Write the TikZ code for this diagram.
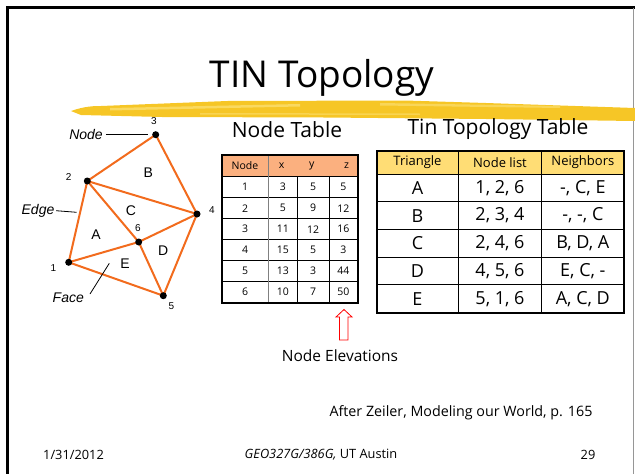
\documentclass[tikz,border=0pt]{standalone}
\usepackage{fontspec}
\setmainfont{Open Sans}
\newfontfamily\figfont{Liberation Sans}
\definecolor{tinedge}{RGB}{242,107,29}
\definecolor{nodehead}{RGB}{251,176,127}
\definecolor{topohead}{RGB}{255,221,117}
\definecolor{brush}{RGB}{246,198,38}
\definecolor{brushlight}{RGB}{251,222,110}
\definecolor{framegray}{RGB}{150,150,150}
\begin{document}
\begin{tikzpicture}[x=1pt,y=-1pt,
  vertex/.style={circle,fill=black,inner sep=0pt,minimum size=7pt},
  vlabel/.style={font=\figfont\fontsize{10}{12}\selectfont,inner sep=0pt},
  facelabel/.style={font=\figfont\fontsize{14}{16}\selectfont,inner sep=0pt},
  callout/.style={font=\figfont\itshape\fontsize{14}{16}\selectfont,inner sep=0pt},
  tinline/.style={draw=tinedge,line width=2pt},
  leader/.style={draw=black,line width=0.8pt},
  heading/.style={font=\fontsize{21}{24}\selectfont,inner sep=0pt},
  smallcell/.style={font=\fontsize{10.5}{12}\selectfont,inner sep=0pt},
  bigcell/.style={font=\fontsize{18}{20}\selectfont,inner sep=0pt},
  headcell/.style={font=\fontsize{13}{15}\selectfont,inner sep=0pt},
  plain/.style={font=\fontsize{14.3}{17}\selectfont,inner sep=0pt},
  footer/.style={font=\fontsize{12.8}{15}\selectfont,inner sep=0pt}]
\useasboundingbox (0,0) rectangle (635,474);

% slide frame
\draw[line width=3pt] (7.5,474) -- (7.5,7.5) -- (635,7.5);
\draw[framegray,line width=0.8pt] (633.6,7.5) -- (633.6,474);

% title and brush stroke underline
\fill[brush] (71,111) .. controls (85,106) and (95,106) .. (101,106)
  -- (227,101) -- (405,100.5) -- (486,103) -- (635,108)
  -- (635,121) -- (486,119) -- (324,117.5) -- (162,117) -- (81,115) -- cycle;
\fill[brushlight,opacity=0.8] (110,108) -- (300,104) -- (300,106.5) -- (110,110.5) -- cycle;
\fill[brushlight,opacity=0.7] (380,103) -- (560,106) -- (560,108) -- (380,105.5) -- cycle;
\fill[brushlight,opacity=0.6] (200,113) -- (420,113.5) -- (420,115) -- (200,114.5) -- cycle;
\node[font=\fontsize{37}{44}\selectfont,inner sep=0pt,anchor=base] (title) at (322,87) {TIN Topology};

% TIN vertices
\coordinate (p1) at (68.7,262.3);
\coordinate (p2) at (87.3,181);
\coordinate (p3) at (155.7,134.7);
\coordinate (p4) at (197,214);
\coordinate (p5) at (163.3,295.7);
\coordinate (p6) at (138.7,242);

% TIN edges
\draw[tinline] (p1) -- (p2);
\draw[tinline] (p2) -- (p3);
\draw[tinline] (p3) -- (p4);
\draw[tinline] (p2) -- (p4);
\draw[tinline] (p2) -- (p6);
\draw[tinline] (p4) -- (p6);
\draw[tinline] (p1) -- (p6);
\draw[tinline] (p1) -- (p5);
\draw[tinline] (p5) -- (p6);
\draw[tinline] (p4) -- (p5);

\foreach \i in {1,...,6} \node[vertex] (v\i) at (p\i) {};

% vertex numbers
\node[vlabel] (n1) at (53.3,268.3) {1};
\node[vlabel] (n2) at (68.7,177.3) {2};
\node[vlabel] (n3) at (154,121) {3};
\node[vlabel] (n4) at (212,210) {4};
\node[vlabel] (n5) at (171.3,305.7) {5};
\node[vlabel] (n6) at (138,227.7) {6};

% face letters
\node[facelabel] (fA) at (96,235) {A};
\node[facelabel] (fB) at (148.3,172.7) {B};
\node[facelabel] (fC) at (131,210.7) {C};
\node[facelabel] (fD) at (163.3,250.7) {D};
\node[facelabel] (fE) at (125,263.3) {E};

% callouts
\node[callout] (cNode) at (86,134.3) {Node};
\node[callout] (cEdge) at (38,210.7) {Edge};
\node[callout] (cFace) at (68.3,297.3) {Face};
\coordinate (kNode) at (148.3,134.3);
\coordinate (kEdge) at (76.7,212.3);
\coordinate (kFace) at (109.3,263.3);
\coordinate (sFace) at (90,294);
\draw[leader] ([xshift=3pt]cNode.east) -- (kNode);
\draw[leader] ([xshift=1.5pt]cEdge.east) -- (kEdge);
\draw[leader] (sFace) -- (kFace);

% ---------- Node table ----------
\node[heading] (ntitle) at (287,130) {Node Table};
\fill[nodehead] (221.7,155) rectangle (357.7,176.7);
\foreach \y in {176.7,197.7,218.7,239.7,260.7,281.7}
  \draw[line width=0.8pt] (221.7,\y) -- (357.7,\y);
\draw[gray,line width=1.4pt] (268.3,155) -- (268.3,302.7);
\draw[line width=0.7pt] (297.3,176.7) -- (297.3,302.7);
\draw[line width=0.7pt] (329,176.7) -- (329,302.7);
\draw[line width=1.6pt] (221.7,155) rectangle (357.7,302.7);
\node[smallcell] (nh1) at (245,166) {Node};
\node[smallcell] (nh2) at (281.7,166) {x};
\node[smallcell] (nh3) at (311.7,166) {y};
\node[smallcell] (nh4) at (346.7,166) {z};
\foreach \r/\a/\b/\c [count=\k] in {1/3/5/5, 2/5/9/12, 3/11/12/16, 4/15/5/3, 5/13/3/44, 6/10/7/50} {
  \pgfmathsetmacro{\yy}{176.7+21*(\k-0.5)}
  \node[smallcell] (nr\k a) at (245,\yy) {\r};
  \node[smallcell] (nr\k b) at (282.8,\yy) {\a};
  \node[smallcell] (nr\k c) at (313.2,\yy) {\b};
  \node[smallcell] (nr\k d) at (343.4,\yy) {\c};
}

% elevation pointer
\node[inner sep=0pt,font=\fontsize{15.5}{18}\selectfont] (elev) at (340,356) {Node Elevations};
\draw[red,line width=0.8pt,fill=white] (344,309.5) -- (352,317) -- (348,317) -- (348,340)
  -- (339.5,340) -- (339.5,317) -- (336,317) -- cycle;

% ---------- TIN topology table ----------
\node[heading] (ttitle) at (498,129) {Tin Topology Table};
\fill[topohead] (376.7,150.7) rectangle (624,174);
\foreach \y in {174,201.7,229.4,257.1,284.8}
  \draw[line width=1pt] (376.7,\y) -- (624,\y);
\draw[line width=1pt] (458.3,150.7) -- (458.3,312.7);
\draw[line width=1pt] (541.7,150.7) -- (541.7,312.7);
\draw[line width=1.8pt] (376.7,150.7) rectangle (624,312.7);
\node[headcell] (th1) at (417.5,162.5) {Triangle};
\node[headcell] (th2) at (500,162.5) {Node list};
\node[headcell] (th3) at (582.85,162.5) {Neighbors};
\foreach \t/\n/\g [count=\k] in {A/{1, 2, 6}/{-, C, E}, B/{2, 3, 4}/{-, -, C}, C/{2, 4, 6}/{B, D, A}, D/{4, 5, 6}/{E, C, -}, E/{5, 1, 6}/{A, C, D}} {
  \pgfmathsetmacro{\yy}{174+27.74*(\k-0.5)}
  \node[bigcell] (tr\k a) at (417.5,\yy) {\t};
  \node[bigcell] (tr\k b) at (500,\yy) {\n};
  \node[bigcell] (tr\k c) at (582.85,\yy) {\g};
}

% source note and footer
\node[plain] (src) at (461,413) {After Zeiler, Modeling our World, p. 165};
\node[footer] (fdate) at (73.5,455) {1/31/2012};
\node[footer,font=\itshape\fontsize{12.8}{15}\selectfont] (fcourse) at (321,455) {GEO327G/386G, \upshape UT Austin};
\node[footer] (fpage) at (588,455) {29};
\end{tikzpicture}
\end{document}
